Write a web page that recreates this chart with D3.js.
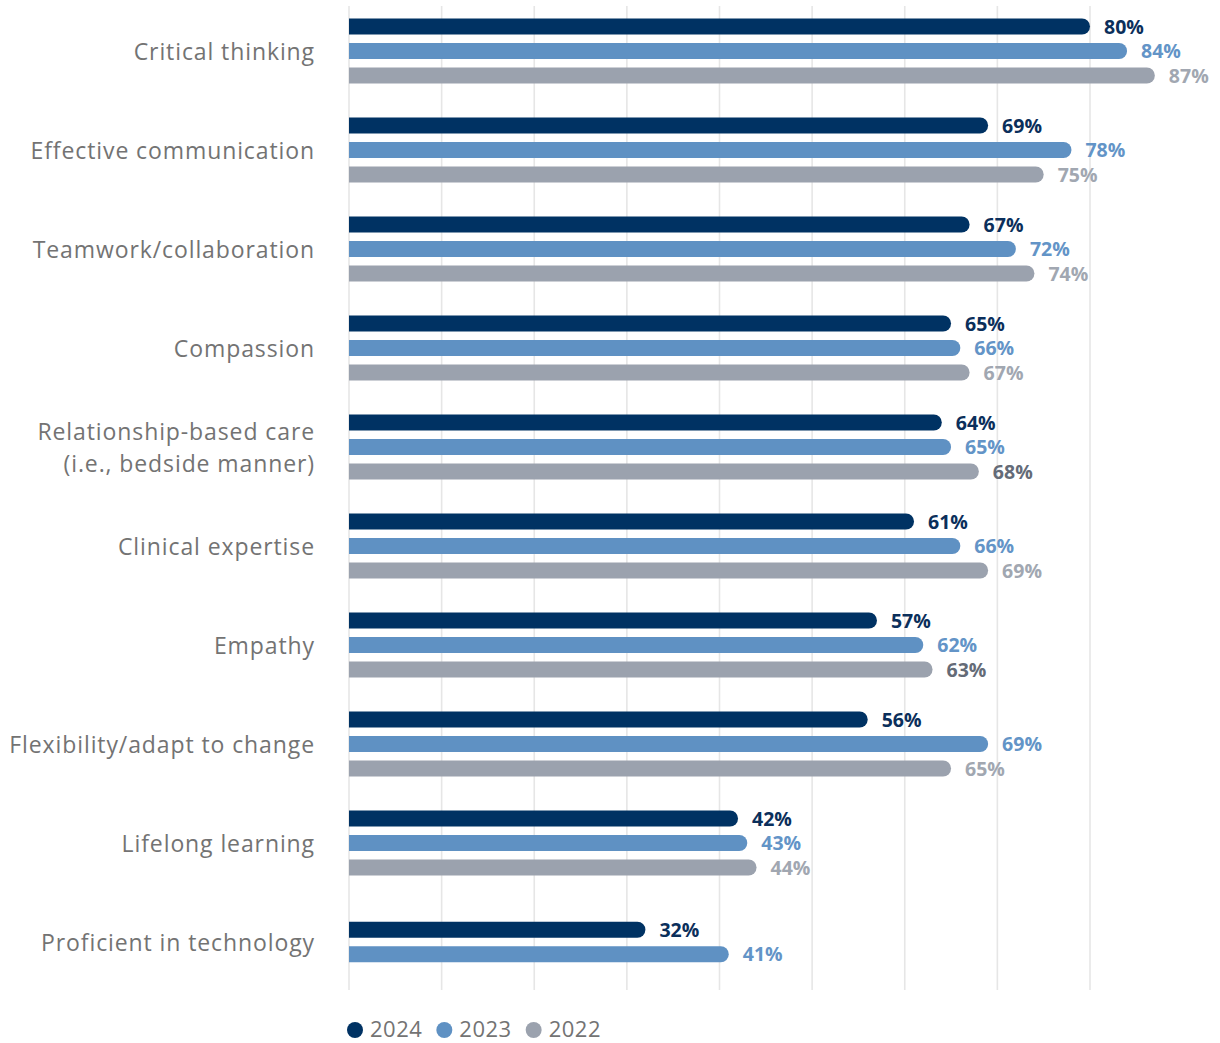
<!DOCTYPE html>
<html>
<head>
<meta charset="utf-8">
<script src="https://cdn.jsdelivr.net/npm/d3@7"></script>
<style>
  html, body { margin: 0; padding: 0; background: #fff; }
  svg { display: block; }
</style>
</head>
<body>
<svg id="chart" width="1220" height="1043"></svg>
<script>
// Skill categories, top to bottom
const categories = [
  "Critical thinking",
  "Effective communication",
  "Teamwork/collaboration",
  "Compassion",
  "Relationship-based care|(i.e., bedside manner)",
  "Clinical expertise",
  "Empathy",
  "Flexibility/adapt to change",
  "Lifelong learning",
  "Proficient in technology"
];
// Share of respondents per year (%)
const values2024 = [80, 69, 67, 65, 64, 61, 57, 56, 42, 32];
const values2023 = [84, 78, 72, 66, 65, 66, 62, 69, 43, 41];
const values2022 = [87, 75, 74, 67, 68, 69, 63, 65, 44, null];
const years = ["2024", "2023", "2022"];
const gridTicks = [0, 10, 20, 30, 40, 50, 60, 70, 80];

const barColors = { "2024": "#003263", "2023": "#5f91c3", "2022": "#9ba2ae" };
const labelColors = { "2024": "#0b2f5b", "2023": "#6394c7", "2022": "#a1a7b1" };
const darkLabel = "#646b77";

const series = [values2024, values2023, values2022];

const svg = d3.select("#chart");
const font = "'Open Sans', sans-serif";

const x = d3.scaleLinear().domain([0, 80]).range([349, 1090]);
const y = d3.scalePoint().domain(categories).range([51, 942]);
const step = 24.5;
const barH = 16;

// vertical gridlines
svg.append("g").selectAll("line")
  .data(gridTicks)
  .join("line")
  .attr("x1", d => x(d)).attr("x2", d => x(d))
  .attr("y1", 6).attr("y2", 990)
  .attr("stroke", "#e6e6e6")
  .attr("stroke-width", 1.6);

// square start, rounded end
function barPath(x0, x1, yc, h) {
  const r = h / 2;
  const top = yc - r, bot = yc + r;
  return `M${x0},${top} L${x1 - r},${top} A${r},${r} 0 0 1 ${x1 - r},${bot} L${x0},${bot} Z`;
}

const rows = [];
categories.forEach((c, i) => {
  const present = years.map((yr, j) => ({ yr, v: series[j][i] })).filter(d => d.v != null);
  const n = present.length;
  present.forEach((d, k) => {
    rows.push({
      cat: c, yr: d.yr, v: d.v,
      yc: y(c) + (k - (n - 1) / 2) * step
    });
  });
});

// 2022 labels that sit in a darker tone
const darkerKeys = new Set(["Relationship-based care|(i.e., bedside manner)", "Empathy"]);

const g = svg.append("g");
g.selectAll("path.bar")
  .data(rows)
  .join("path")
  .attr("class", "bar")
  .attr("d", d => barPath(x(0), x(d.v), d.yc, barH))
  .attr("fill", d => barColors[d.yr]);

g.selectAll("text.val")
  .data(rows)
  .join("text")
  .attr("class", "val")
  .attr("x", d => x(d.v) + 14)
  .attr("y", d => d.yc)
  .attr("dy", "0.37em")
  .attr("font-family", font)
  .attr("font-weight", 700)
  .attr("font-size", 19.5)
  .attr("fill", d => (d.yr === "2022" && darkerKeys.has(d.cat)) ? darkLabel : labelColors[d.yr])
  .text(d => d.v + "%");

// category labels
const catG = svg.append("g");
categories.forEach(c => {
  const lines = c.split("|");
  const t = catG.append("text")
    .attr("x", 315)
    .attr("text-anchor", "end")
    .attr("font-family", font)
    .attr("font-size", 23)
    .attr("letter-spacing", 0.9)
    .attr("fill", "#737373");
  const lh = 32;
  lines.forEach((ln, k) => {
    t.append("tspan")
      .attr("x", 315)
      .attr("y", y(c) + (k - (lines.length - 1) / 2) * lh)
      .attr("dy", "0.4em")
      .text(ln);
  });
});

// legend
const legend = svg.append("g");
let lx = 347;
years.forEach(yr => {
  legend.append("circle")
    .attr("cx", lx + 8).attr("cy", 1030).attr("r", 8)
    .attr("fill", barColors[yr]);
  const t = legend.append("text")
    .attr("x", lx + 23).attr("y", 1030).attr("dy", "0.34em")
    .attr("font-family", font).attr("font-size", 22)
    .attr("letter-spacing", 0.5)
    .attr("fill", "#737373")
    .text(yr);
  lx += 23 + t.node().getComputedTextLength() + 14;
});
</script>
</body>
</html>
